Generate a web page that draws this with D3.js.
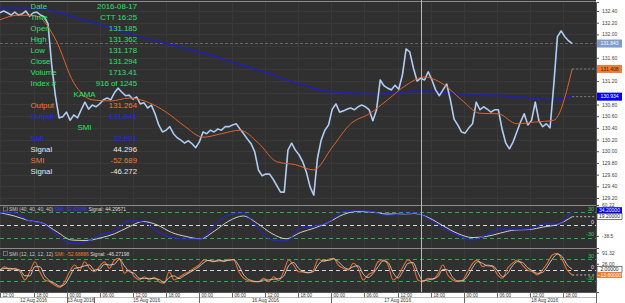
<!DOCTYPE html>
<html>
<head>
<meta charset="utf-8">
<script src="https://d3js.org/d3.v7.min.js"></script>
<style>
body { margin: 0; background: #fff; }
svg { display: block; font-family: 'Liberation Sans', Arial, sans-serif; }
</style>
</head>
<body>
<svg width="625" height="303"></svg>
<script>
// 5 minute bars, 12 Aug 2016 12:00 -> 18 Aug 2016 ~19:45 (CTT)
var barCount = 1245;
var cursorBar = 916;

// close prices, evenly spaced over the bars
var closes = [132.37,132.40,132.37,132.33,132.38,132.33,132.35,132.40,132.31,132.37,132.38,132.33,132.30,132.18,131.48,130.95,
130.57,130.59,130.67,130.53,130.62,130.57,130.71,130.84,130.72,130.79,130.76,130.81,130.88,130.91,130.88,131.00,
131.08,131.01,130.95,130.96,130.89,130.93,130.81,130.83,130.74,130.79,130.64,130.45,130.33,130.36,130.42,130.30,
130.23,130.19,130.14,130.18,130.13,130.06,130.16,130.33,130.30,130.36,130.33,130.38,130.36,130.42,130.42,130.45,
130.47,130.38,130.30,130.21,130.13,129.99,129.68,129.58,129.61,129.61,129.52,129.41,129.30,129.30,130.02,130.14,
130.02,129.94,129.82,129.64,129.39,129.25,129.88,130.19,130.36,130.45,130.72,130.81,130.67,130.69,130.72,130.74,
130.71,130.76,130.79,130.76,130.71,130.52,130.71,131.22,131.12,131.08,131.05,131.13,131.06,131.30,131.75,131.70,
131.42,131.20,131.25,131.22,131.36,131.22,131.05,130.95,131.05,131.15,130.88,130.55,130.45,130.33,130.31,130.40,
130.47,130.84,130.71,130.76,130.72,130.67,130.71,130.71,130.38,130.14,130.04,130.16,130.33,130.50,130.64,130.45,
130.53,130.84,130.52,130.42,130.47,130.40,131.13,131.96,132.06,131.96,131.89,131.843];

// KAMA output (orange)
var kama = [132.25,132.33,132.31,131.92,131.17,130.88,130.86,130.91,130.84,130.67,130.43,130.24,130.30,130.36,130.14,129.82,
129.77,129.68,130.07,130.47,130.64,130.88,131.13,131.27,131.15,130.88,130.65,130.64,130.47,130.50,130.53,131.408];

// second output (blue)
var slowMa = [132.45,132.45,132.44,132.38,132.28,132.19,132.09,131.99,131.90,131.82,131.73,131.65,131.54,131.44,131.34,131.22,
131.12,131.03,131.00,130.98,130.98,131.00,131.03,131.01,130.98,130.96,130.95,130.93,130.90,130.88,130.934];

// SMI (40,40,40,40)
var smiA = [28.4,28.2,10.4,3.5,-23.1,-42.7,-39.2,-23.1,-13.8,9.2,6.9,-15.0,-28.9,-32.3,-32.3,0,23.1,27.7,-6.9,-34.6,-36.9,
-6.9,-2.3,6.9,31.2,33.0,31.2,21.9,25.4,27.7,13.8,-6.9,-24.2,-34.6,-23.1,-9.2,-10.4,-9.2,2.3,2.3,34.2];
var smiASignal = [28.4,20.8,10.4,3.9,-16.2,-34.6,-35.8,-30.0,-20.3,-4.6,8.1,0,-17.3,-26.5,-31.8,-13.8,9.2,20.8,3.5,-19.6,-31.8,
-17.3,-6.9,6.9,24.2,31.2,30.0,25.4,25.4,26.5,16.2,-2.3,-19.6,-28.9,-26.5,-18.5,-11.5,-10.4,-4.6,1.6,19.2];

// SMI (12,12,12,12)
var smiB = [0,9.0,0,4.6,-4.6,-27.3,-4.6,22.6,-4.6,-27.3,-31.9,-40.9,-47.2,-31.9,-4.6,13.6,0,22.6,4.6,-4.6,9.0,22.6,4.6,27.3,
31.9,-9.0,0,-18.3,-27.3,-18.3,-27.3,-19.9,-31.9,-36.3,-4.6,-27.3,-19.9,-10.9,-4.6,4.6,13.6,27.3,25.4,22.6,27.3,22.6,
29.2,27.3,-4.6,-22.6,-29.2,-31.9,-31.9,-22.6,-31.9,-18.3,-29.2,-4.6,27.3,13.6,-4.6,-5.5,-8.2,0,30.0,22.6,29.2,31.9,
13.6,4.6,0,18.3,4.6,-27.3,-13.6,-4.6,22.6,27.3,13.6,-27.3,-16.4,9.0,27.3,13.6,-27.3,-31.9,-22.6,-25.4,-10.9,13.6,
-13.6,-27.3,-31.9,-27.3,-4.6,18.3,27.3,9.0,13.6,9.0,-13.6,-22.6,4.6,18.3,27.3,13.6,0,-4.6,-13.6,0,18.3,40.9,45.5,
27.3,0,-13.6];
var smiBSignal = [0,4.5,4.5,2.3,0,-16,-16,9,9,-16,-29.6,-36.4,-44,-39.5,-18.2,4.5,6.8,11.3,13.6,0,2.2,15.8,13.6,16,
29.6,11.4,-4.5,-9.1,-22.8,-22.8,-22.8,-23.6,-25.9,-34.1,-20.4,-16,-23.6,-15.4,-7.8,0,9.1,20.4,26.4,24,25,25,
25.9,28.2,11.4,-13.6,-25.9,-30.5,-31.9,-27.3,-27.3,-25.1,-23.8,-16.9,11.4,20.4,4.5,-5,-6.9,-4.1,15,26.3,25.9,30.5,
22.8,9.1,2.3,9.1,11.4,-11.4,-20.4,-9.1,9,25,20.4,-6.8,-21.8,-3.7,18.2,20.4,-6.8,-29.6,-27.3,-24,-18.2,1.4,
0,-20.4,-29.6,-29.6,-16,6.8,22.8,18.2,11.3,11.3,-2.3,-18.1,-9,11.4,22.8,20.4,6.8,-2.3,-9.1,-6.8,9.1,29.6,43.2,
36.4,13.6,2.0];

var priceTicks = [129.2,129.4,129.6,129.8,130.0,130.2,130.4,130.6,130.8,131.0,131.2,131.4,131.6,131.8,132.0,132.2,132.4];
var levels = [30, 0, -30];
// oscillator scale labels as printed on the right axis
var smiATickAt = [45.5, -25], smiATickText = ["60.22", "-38.5"];
var smiBTickAt = [47, 17], smiBTickText = ["91.32", "26.00"];

var timeLabels = ["12:00","18:00","00:00","06:00","12:00","18:00","00:00","06:00","12:00","18:00",
  "00:00","06:00","12:00","18:00","00:00","06:00","12:00","18:00"];
var timeBars = [1,73,145,217,289,361,433,505,577,649,721,793,865,937,1009,1081,1153,1225];
var dayLabels = ["12 Aug 2016","13 Aug 2016","15 Aug 2016","16 Aug 2016","17 Aug 2016","18 Aug 2016"];
var dayBars = [0,145,205,433,721,1009];

var infoNames = ["Date","Time","Open","High","Low","Close","Volume","Index #"];
var infoValues = ["2016-08-17","CTT 16:25","131.185","131.362","131.178","131.294","1713.41","916 of 1245"];

var green = "#2be26a", orange = "#f37a2e", blue = "#2323ff", white = "#e8e8e8";

var svg = d3.select("svg");
var plotR = 596, W = 625;

var x = d3.scaleLinear().domain([0, barCount]).range([0, 572.2]);
var yMain = d3.scaleLinear().domain([129.08, 132.554]).range([205, 2]);
var yA = d3.scaleLinear().domain([-53.1, 46.2]).range([248, 205]);
var yB = d3.scaleLinear().domain([-60, 60]).range([292, 248]);

function barAt(arr, i) { return i * barCount / (arr.length - 1); }
function last(arr) { return arr[arr.length - 1]; }

// backgrounds
svg.append("rect").attr("width", W).attr("height", 303).attr("fill", "#fff");
svg.append("rect").attr("width", plotR).attr("height", 292).attr("fill", "#303030");

svg.append("clipPath").attr("id", "plot").append("rect").attr("width", plotR).attr("height", 292);

// grid
var grid = svg.append("g").attr("stroke", "#393939").attr("stroke-width", 1);
priceTicks.forEach(function(p) {
  grid.append("line").attr("x1", 0).attr("x2", plotR)
    .attr("y1", Math.round(yMain(p)) + 0.5).attr("y2", Math.round(yMain(p)) + 0.5);
});
timeBars.forEach(function(b) {
  grid.append("line").attr("y1", 2).attr("y2", 292)
    .attr("x1", Math.round(x(b)) + 0.5).attr("x2", Math.round(x(b)) + 0.5);
});

// panel borders
[1, 205, 248].forEach(function(yy) {
  svg.append("line").attr("x1", 0).attr("x2", plotR).attr("y1", yy + 0.5).attr("y2", yy + 0.5)
    .attr("stroke", "#8a8a8a").attr("stroke-width", 1);
});

var plot = svg.append("g").attr("clip-path", "url(#plot)");

// current price dashed line
plot.append("line").attr("x1", 0).attr("x2", plotR)
  .attr("y1", yMain(last(closes))).attr("y2", yMain(last(closes)))
  .attr("stroke", "#686868").attr("stroke-dasharray", "3,2");

function seriesLine(arr, yScale, curve) {
  return d3.line().x(function(d, i) { return x(barAt(arr, i)); })
    .y(function(d) { return yScale(d); }).curve(curve || d3.curveLinear)(arr);
}

// slow MA (blue)
plot.append("path").attr("d", seriesLine(slowMa, yMain, d3.curveMonotoneX))
  .attr("fill", "none").attr("stroke", "#1c1cd8").attr("stroke-width", 1.2);

// price
plot.append("path").attr("d", seriesLine(closes, yMain))
  .attr("fill", "none").attr("stroke", "#8cadd9").attr("stroke-width", 1.7).attr("stroke-linejoin", "round");
plot.append("path").attr("d", seriesLine(closes, yMain))
  .attr("fill", "none").attr("stroke", "#f4f7ff").attr("stroke-width", 0.55).attr("stroke-opacity", 0.9);

// KAMA (orange)
plot.append("path").attr("d", seriesLine(kama, yMain, d3.curveMonotoneX))
  .attr("fill", "none").attr("stroke", "#e0632a").attr("stroke-width", 1);

// end connectors
function endDash(arr, yScale, col) {
  var yy = yScale(last(arr));
  plot.append("line").attr("x1", x(barCount)).attr("x2", plotR).attr("y1", yy).attr("y2", yy)
    .attr("stroke", col).attr("stroke-dasharray", "2,2");
}
endDash(kama, yMain, "#888");
endDash(slowMa, yMain, "#888");

// oscillator levels
function levelLines(yScale) {
  levels.forEach(function(l) {
    plot.append("line").attr("x1", 0).attr("x2", plotR)
      .attr("y1", Math.round(yScale(l)) + 0.5).attr("y2", Math.round(yScale(l)) + 0.5)
      .attr("stroke", l === 0 ? "#d8d8d8" : "#22b04e").attr("stroke-dasharray", "4,3");
    plot.append("text").attr("x", 594).attr("y", yScale(l) - 1.5).attr("text-anchor", "end")
      .attr("font-size", 5.5).attr("fill", l === 0 ? "#ddd" : "#2bd060").text(l);
  });
}
levelLines(yA);
levelLines(yB);

plot.append("path").attr("d", seriesLine(smiASignal, yA, d3.curveMonotoneX))
  .attr("fill", "none").attr("stroke", "#cfcfcf").attr("stroke-width", 1);
plot.append("path").attr("d", seriesLine(smiA, yA, d3.curveMonotoneX))
  .attr("fill", "none").attr("stroke", blue).attr("stroke-width", 1);
endDash(smiASignal, yA, "#bbb");

plot.append("path").attr("d", seriesLine(smiB, yB, d3.curveMonotoneX))
  .attr("fill", "none").attr("stroke", "#e8702a").attr("stroke-width", 1.1);
plot.append("path").attr("d", seriesLine(smiBSignal, yB, d3.curveMonotoneX))
  .attr("fill", "none").attr("stroke", "#d0d0d0").attr("stroke-width", 0.9);
endDash(smiB, yB, "#bbb");

// crosshair
svg.append("line").attr("x1", Math.round(x(cursorBar)) + 0.5).attr("x2", Math.round(x(cursorBar)) + 0.5)
  .attr("y1", 0).attr("y2", 292).attr("stroke", "#b8b8b8").attr("stroke-width", 1);

// panel captions
function caption(yy, parts) {
  svg.append("rect").attr("x", 3.5).attr("y", yy - 2.5).attr("width", 4).attr("height", 4)
    .attr("fill", "none").attr("stroke", "#9a9a9a").attr("stroke-width", 0.6);
  var t = svg.append("text").attr("x", 9).attr("y", yy + 1.6).attr("font-size", 5);
  parts.forEach(function(p) { t.append("tspan").attr("fill", p[1]).text(p[0]); });
}
caption(209.5, [["SMI (40, 40, 40, 40) ", "#c8c8c8"], ["SMI: 32.60086 ", "#3a3aff"], ["Signal: 44.29571", "#dcdcdc"]]);
caption(254, [["SMI (12, 12, 12, 12) ", "#c8c8c8"], ["SMI: -52.68886 ", orange], ["Signal: -46.27198", "#dcdcdc"]]);

// info overlay
var info = svg.append("g").attr("font-size", 7.8);
function infoRow(i, name, value, col) {
  var yy = 6.5 + 11 * i + 2.7;
  info.append("text").attr("x", 30.5).attr("y", yy).attr("fill", col).text(name);
  if (value !== null) info.append("text").attr("x", 137).attr("y", yy).attr("text-anchor", "end").attr("fill", col).text(value);
}
infoNames.forEach(function(n, i) { infoRow(i, n, infoValues[i], green); });
info.append("text").attr("x", 84.5).attr("y", 6.5 + 11 * 8 + 2.7).attr("text-anchor", "middle").attr("fill", green).text("KAMA");
infoRow(9, "Output", "131.264", orange);
infoRow(10, "Output", "131.041", blue);
info.append("text").attr("x", 84.5).attr("y", 6.5 + 11 * 11 + 2.7).attr("text-anchor", "middle").attr("fill", green).text("SMI");
infoRow(12, "SMI", "32.601", blue);
infoRow(13, "Signal", "44.296", white);
infoRow(14, "SMI", "-52.689", orange);
infoRow(15, "Signal", "-46.272", white);

// right price axis; labels hidden where a value tag sits on top
var tagYs = [yMain(last(closes)), yMain(last(kama)), yMain(last(slowMa))];
var axisG = svg.append("g").attr("transform", "translate(" + plotR + ",0)")
  .call(d3.axisRight(yMain).tickValues(priceTicks).tickFormat(d3.format(".2f")).tickSize(3).tickPadding(3));
axisG.select(".domain").attr("stroke", "#555");
axisG.selectAll("line").attr("stroke", "#555");
axisG.selectAll("text").attr("font-size", 5).attr("fill", "#444").attr("font-family", "'Liberation Sans', Arial, sans-serif");
axisG.selectAll(".tick").filter(function(d) {
  return tagYs.some(function(t) { return Math.abs(yMain(d) - t) < 6; });
}).select("text").remove();

// oscillator axes
function oscAxis(yScale, at, labels) {
  var g = svg.append("g").attr("transform", "translate(" + plotR + ",0)")
    .call(d3.axisRight(yScale).tickValues(at).tickFormat(function(d, i) { return labels[i]; })
      .tickSize(3).tickPadding(3));
  g.select(".domain").attr("stroke", "#555");
  g.selectAll("line").attr("stroke", "#555");
  g.selectAll("text").attr("font-size", 5).attr("fill", "#444").attr("font-family", "'Liberation Sans', Arial, sans-serif");
}
oscAxis(yA, smiATickAt, smiATickText);
oscAxis(yB, smiBTickAt, smiBTickText);

// side value tags
function tag(yy, h, text, fill, col, stroke) {
  svg.append("rect").attr("x", 597).attr("y", yy - h / 2).attr("width", 25).attr("height", h)
    .attr("fill", fill).attr("stroke", stroke || "none").attr("stroke-width", 0.6);
  svg.append("text").attr("x", 609.5).attr("y", yy + 1.8).attr("text-anchor", "middle")
    .attr("font-size", 5).attr("fill", col).text(text);
}
tag(yMain(last(closes)), 8, d3.format(".3f")(last(closes)), "#7e9ccc", "#fff");
tag(yMain(last(kama)), 8, d3.format(".3f")(last(kama)), "#f57a30", "#222");
tag(yMain(last(slowMa)), 8, d3.format(".3f")(last(slowMa)), "#0000ff", "#fff");
tag(yA(last(smiA)), 6, d3.format(".5f")(last(smiA)), "#0000ff", "#fff");
tag(yA(last(smiASignal)), 6, d3.format(".5f")(last(smiASignal)), "#fff", "#222", "#222");
tag(yB(last(smiBSignal)), 6, d3.format(".5f")(last(smiBSignal)), "#fff", "#222", "#222");
tag(yB(last(smiB)), 6, d3.format(".5f")(last(smiB)), "#f57a30", "#fff");

// time axis
var tAxis = svg.append("g");
tAxis.append("line").attr("x1", 0).attr("x2", plotR).attr("y1", 292.5).attr("y2", 292.5).attr("stroke", "#555");
tAxis.append("line").attr("x1", 0).attr("x2", plotR).attr("y1", 297.5).attr("y2", 297.5).attr("stroke", "#bbb");
timeBars.forEach(function(b, i) {
  var xx = Math.round(x(b)) + 0.5;
  tAxis.append("line").attr("x1", xx).attr("x2", xx).attr("y1", 292).attr("y2", 297.5).attr("stroke", "#666");
  tAxis.append("text").attr("x", xx + 2).attr("y", 296.6).attr("font-size", 4.6).attr("fill", "#333").text(timeLabels[i]);
});
dayBars.forEach(function(b, i) {
  var xs = Math.round(x(b)) + 0.5;
  var xe = i < dayBars.length - 1 ? x(dayBars[i + 1]) : W;
  if (i > 0) tAxis.append("line").attr("x1", xs).attr("x2", xs).attr("y1", 297).attr("y2", 303).attr("stroke", "#666");
  tAxis.append("text").attr("x", (xs + xe) / 2).attr("y", 302.4).attr("text-anchor", "middle")
    .attr("font-size", 4.8).attr("fill", "#333").text(dayLabels[i]);
});
tAxis.append("line").attr("x1", plotR + 0.5).attr("x2", plotR + 0.5).attr("y1", 292).attr("y2", 303).attr("stroke", "#666");
</script>
</body>
</html>
